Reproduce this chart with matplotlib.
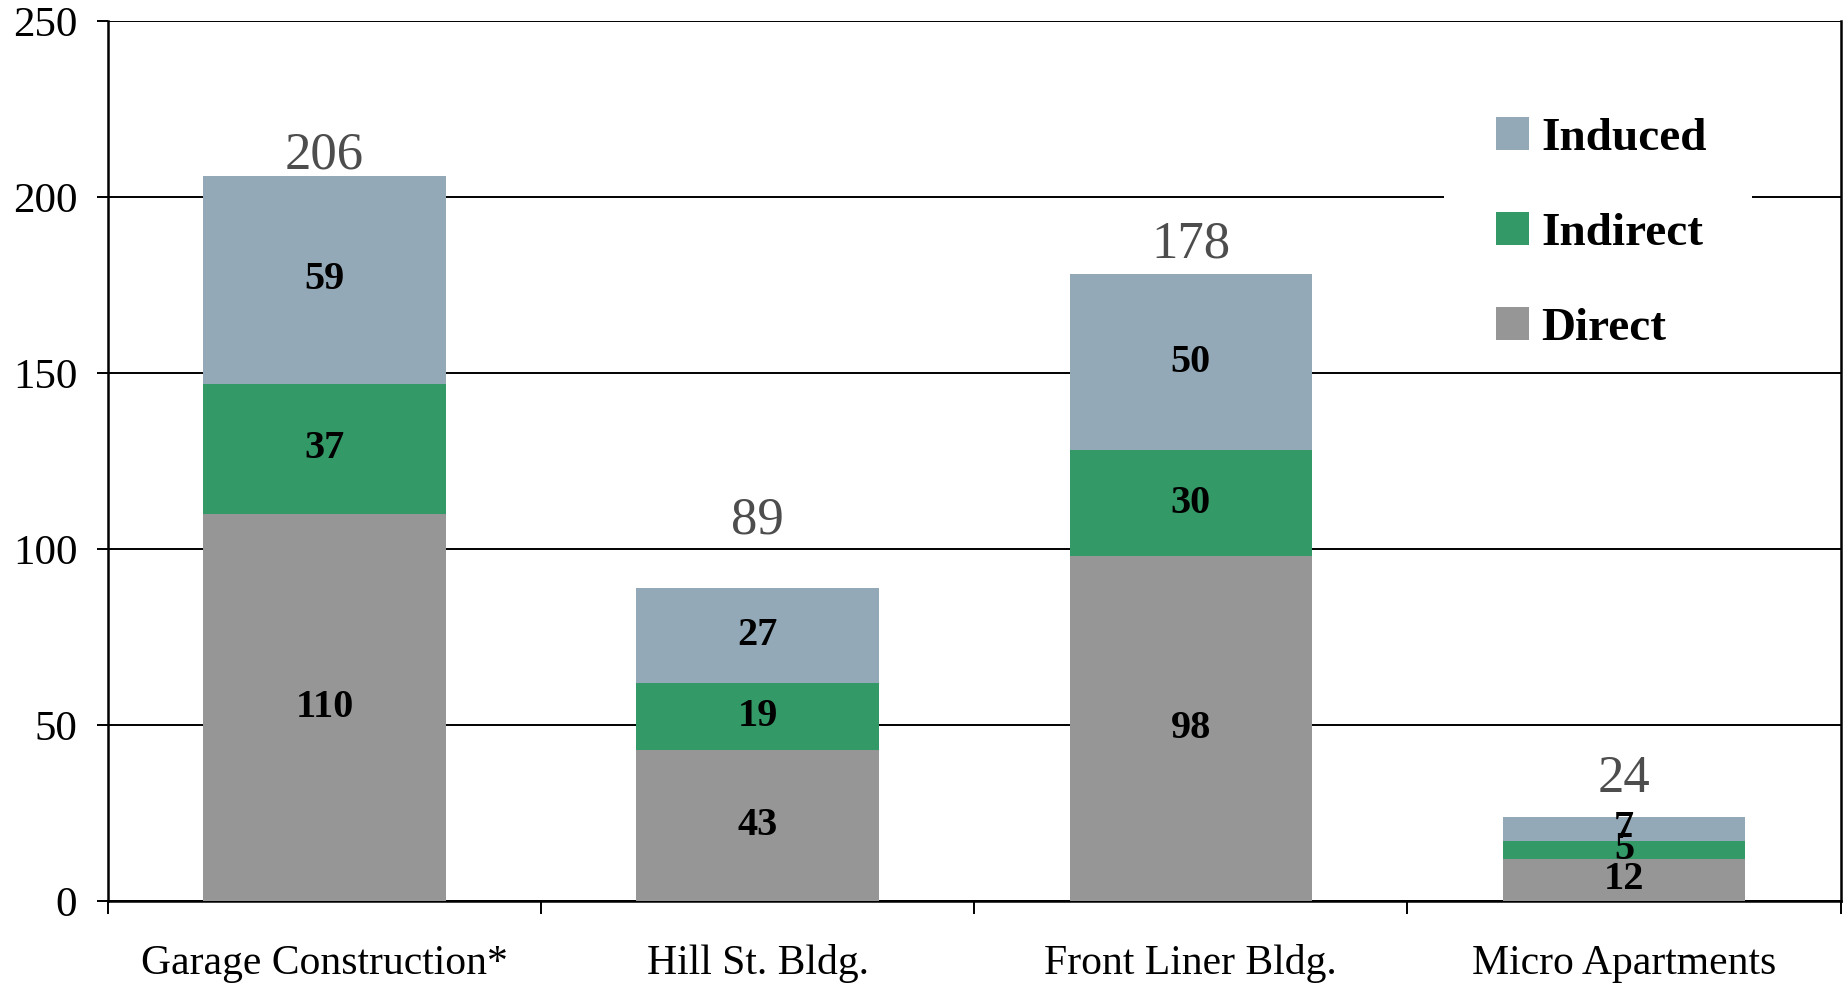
import matplotlib
matplotlib.use("Agg")
import matplotlib.pyplot as plt
import numpy as np
from matplotlib.patches import Patch, Rectangle

categories = ["Garage Construction*", "Hill St. Bldg.", "Front Liner Bldg.", "Micro Apartments"]
direct = [110, 43, 98, 12]
indirect = [37, 19, 30, 5]
induced = [59, 27, 50, 7]
totals = [206, 89, 178, 24]

# vertical lift (points) of each total label above its bar
total_label_lift = [-2.5, 31, 4, 9.5]

series_names = ["Direct", "Indirect", "Induced"]
series_colors = ["#969696", "#339966", "#93A9B8"]

plt.rcParams["font.family"] = ["Liberation Serif", "DejaVu Serif"]

fig = plt.figure(figsize=(18.48, 9.83), dpi=100)
ax = fig.add_axes([0.0584, 0.0834, 0.9376, 0.8952])

x = np.arange(len(categories))
width = 0.56
bottom = np.zeros(len(categories))
for vals, name, color in zip([direct, indirect, induced], series_names, series_colors):
    vals = np.array(vals, dtype=float)
    ax.bar(x, vals, width, bottom=bottom, color=color, label=name, zorder=3)
    for xi, b, v in zip(x, bottom, vals):
        ax.text(xi, b + v / 2, f"{int(v)}", ha="center", va="center",
                fontsize=29, fontweight="bold", color="black", zorder=4)
    bottom += vals

for xi, t, lift in zip(x, totals, total_label_lift):
    ax.annotate(f"{t}", (xi, t), xytext=(0, lift), textcoords="offset points",
                ha="center", va="bottom", fontsize=38, color="#4d4d4d", zorder=4)

ax.set_xlim(-0.5, len(categories) - 0.5)
ax.set_ylim(0, 250)
ax.set_yticks(np.arange(0, 251, 50))
ax.yaxis.grid(True, color="black", linewidth=1.4, zorder=0)
ax.set_axisbelow(True)

ax.set_xticks(x)
ax.set_xticklabels(categories, fontsize=30)
ax.set_xticks(np.arange(-0.5, len(categories), 1.0), minor=True)
ax.tick_params(axis="x", which="major", length=0, pad=31)
ax.tick_params(axis="x", which="minor", length=9, width=1.4, direction="out")
ax.tick_params(axis="y", labelsize=31, length=8, width=1.4, pad=14)

for side in ["left", "right", "bottom"]:
    ax.spines[side].set_linewidth(1.8)
    ax.spines[side].set_color("black")
ax.spines["top"].set_visible(False)

# white backing behind the legend, hiding the gridline it sits on
ax.add_patch(Rectangle((0.771, 0.62), 0.178, 0.35, transform=ax.transAxes,
                       facecolor="white", edgecolor="none", zorder=4.5))

handles = [Patch(facecolor=c) for c in series_colors[::-1]]
leg = ax.legend(handles, series_names[::-1], loc="upper left",
                bbox_to_anchor=(0.771, 0.95), borderaxespad=0,
                frameon=False,
                prop={"family": ["Liberation Serif"], "weight": "bold", "size": 34},
                handlelength=0.7, handleheight=0.7, handletextpad=0.27,
                labelspacing=1.1, borderpad=1.1)
leg.set_zorder(5)

fig.savefig("out.png", dpi=100)
